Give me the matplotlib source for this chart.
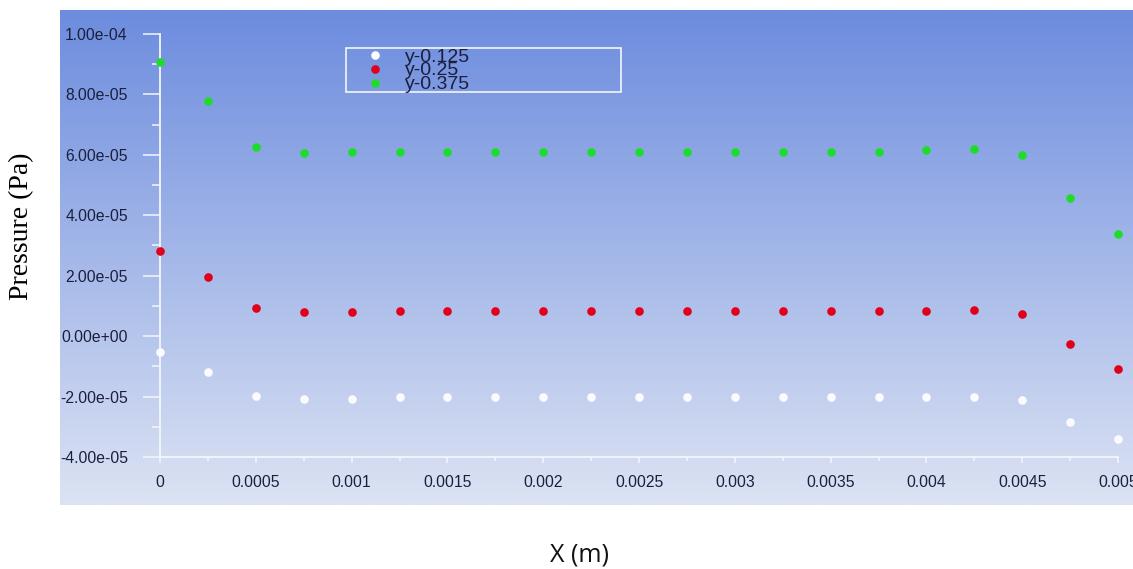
import numpy as np
import matplotlib
matplotlib.use("Agg")
import matplotlib.pyplot as plt
from matplotlib.patches import Rectangle
from matplotlib.ticker import FixedLocator, MultipleLocator

# ---- data -----------------------------------------------------------------
x_m = [0.0, 0.00025, 0.0005, 0.00075, 0.001, 0.00125, 0.0015, 0.00175,
       0.002, 0.00225, 0.0025, 0.00275, 0.003, 0.00325, 0.0035, 0.00375,
       0.004, 0.00425, 0.0045, 0.00475, 0.005]

p_y0125 = [-0.53e-5, -1.18e-5, -1.97e-5, -2.07e-5, -2.07e-5, -2.02e-5,
           -2.02e-5, -2.02e-5, -2.02e-5, -2.02e-5, -2.03e-5, -2.03e-5,
           -2.03e-5, -2.03e-5, -2.03e-5, -2.03e-5, -2.03e-5, -2.03e-5,
           -2.11e-5, -2.83e-5, -3.42e-5]

p_y025 = [2.82e-5, 1.97e-5, 0.92e-5, 0.79e-5, 0.79e-5, 0.83e-5, 0.83e-5,
          0.83e-5, 0.83e-5, 0.83e-5, 0.82e-5, 0.82e-5, 0.82e-5, 0.82e-5,
          0.82e-5, 0.82e-5, 0.82e-5, 0.87e-5, 0.72e-5, -0.27e-5, -1.08e-5]

p_y0375 = [9.08e-5, 7.79e-5, 6.27e-5, 6.07e-5, 6.10e-5, 6.10e-5, 6.10e-5,
           6.10e-5, 6.10e-5, 6.10e-5, 6.10e-5, 6.10e-5, 6.10e-5, 6.10e-5,
           6.10e-5, 6.10e-5, 6.16e-5, 6.19e-5, 6.00e-5, 4.56e-5, 3.37e-5]

series_labels = ["y-0.125", "y-0.25", "y-0.375"]
series_colors = ["#fbfbff", "#e0001a", "#1fdc2a"]

xtick_vals = [0, 0.0005, 0.001, 0.0015, 0.002, 0.0025, 0.003, 0.0035,
              0.004, 0.0045, 0.005]
xtick_labels = ["0", "0.0005", "0.001", "0.0015", "0.002", "0.0025",
                "0.003", "0.0035", "0.004", "0.0045", "0.005"]
ytick_vals = [-4e-5, -2e-5, 0.0, 2e-5, 4e-5, 6e-5, 8e-5, 1e-4]
ytick_labels = ["-4.00e-05", "-2.00e-05", "0.00e+00", "2.00e-05",
                "4.00e-05", "6.00e-05", "8.00e-05", "1.00e-04"]

# ---- figure ---------------------------------------------------------------
W, H = 1133, 569
DPI = 100
fig = plt.figure(figsize=(W / DPI, H / DPI), dpi=DPI)
fig.patch.set_facecolor("white")


def fbox(x0, y0, x1, y1):
    """pixel box (top-left origin) -> figure-fraction [l, b, w, h]"""
    return [x0 / W, 1 - y1 / H, (x1 - x0) / W, (y1 - y0) / H]


def fpt(x, y):
    return x / W, 1 - y / H


# gradient panel behind the plot
bg = fig.add_axes(fbox(60, 10, 1133, 505))
top = np.array([108, 140, 222]) / 255.0
bot = np.array([220, 227, 243]) / 255.0
t = np.linspace(0, 1, 256)[:, None]
grad = (top[None, :] * (1 - t) + bot[None, :] * t)[:, None, :]
grad = np.repeat(grad, 2, axis=1)
bg.imshow(grad, aspect="auto", extent=[0, 1, 0, 1], interpolation="bilinear")
bg.set_axis_off()

# main axes
ax = fig.add_axes(fbox(160, 34, 1118, 457))
ax.set_facecolor("none")
ax.set_xlim(0, 0.005)
ax.set_ylim(-4e-5, 1e-4)

for vals, col in zip([p_y0125, p_y025, p_y0375], series_colors):
    ax.plot(x_m, vals, linestyle="none", marker="o", ms=6.2, mew=0,
            color=col, clip_on=False, zorder=3)

for side in ["top", "right"]:
    ax.spines[side].set_visible(False)
for side in ["left", "bottom"]:
    ax.spines[side].set_color("#f4f6fc")
    ax.spines[side].set_linewidth(1.3)

tick_col = "#1b1f3e"
ax.yaxis.set_major_locator(FixedLocator(ytick_vals))
ax.set_yticklabels(ytick_labels)
ax.yaxis.set_minor_locator(MultipleLocator(1e-5))
ax.xaxis.set_major_locator(FixedLocator(xtick_vals))
ax.set_xticklabels(xtick_labels)
ax.xaxis.set_minor_locator(MultipleLocator(0.00025))

ax.tick_params(axis="y", which="major", length=12.2, width=1.1,
               color="#f4f6fc", pad=11, labelsize=11.3, labelcolor=tick_col)
ax.tick_params(axis="y", which="minor", length=5.8, width=1.1,
               color="#f4f6fc")
ax.tick_params(axis="x", which="major", length=4.3, width=1.1,
               color="#f4f6fc", pad=8.5, labelsize=11.3, labelcolor=tick_col)
ax.tick_params(axis="x", which="minor", length=2.9, width=1.1,
               color="#f4f6fc")
for lab in ax.get_xticklabels() + ax.get_yticklabels():
    lab.set_fontfamily(["Liberation Sans", "DejaVu Sans"])

# legend box
legend_ax = fig.add_axes([0, 0, 1, 1])
legend_ax.set_xlim(0, W)
legend_ax.set_ylim(H, 0)
legend_ax.set_axis_off()
legend_ax.add_patch(Rectangle((346, 47.5), 275, 44, fill=False,
                              edgecolor="#f4f6fc", linewidth=1.2))
row_marker_y = [55, 69, 82.7]
row_text_y = [57.5, 70.5, 84]
for lab, col, my, ty in zip(series_labels, series_colors, row_marker_y,
                            row_text_y):
    legend_ax.plot([375], [my], marker="o", ms=6.2, mew=0, color=col,
                   linestyle="none")
    legend_ax.text(405, ty, lab, ha="left", va="center", fontsize=14,
                   color=tick_col,
                   family=["Liberation Sans", "DejaVu Sans"])

# axis titles
fig.text(*fpt(22, 226), "Pressure (Pa)", rotation=90, ha="center",
         va="center", fontsize=20, family=["Liberation Serif", "DejaVu Serif"],
         color="black")
fig.text(*fpt(580, 555), "X (m)", ha="center", va="center", fontsize=18,
         family=["Open Sans", "DejaVu Sans"], color="#111111")

fig.savefig("out.png", dpi=DPI)
